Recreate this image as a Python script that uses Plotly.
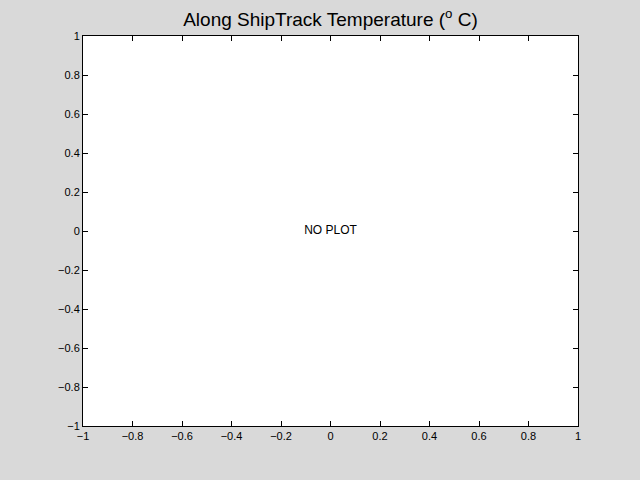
import plotly.graph_objects as go

x_ticks = [-1, -0.8, -0.6, -0.4, -0.2, 0, 0.2, 0.4, 0.6, 0.8, 1]
y_ticks = [-1, -0.8, -0.6, -0.4, -0.2, 0, 0.2, 0.4, 0.6, 0.8, 1]
tick_labels = ["\u22121", "\u22120.8", "\u22120.6", "\u22120.4", "\u22120.2", "0", "0.2", "0.4", "0.6", "0.8", "1"]
message = "NO PLOT"
message_x = [0]
message_y = [0]
title_text = "Along ShipTrack Temperature (<sup>o</sup> C)"

fig = go.Figure()
fig.add_trace(go.Scatter(x=message_x, y=message_y, mode="text", text=[message],
                         textfont=dict(family="Liberation Sans, Arial", size=12, color="black"),
                         hoverinfo="skip", showlegend=False))

axis_common = dict(
    showgrid=False, zeroline=False, ticks="inside", ticklen=5, tickcolor="black",
    linecolor="black", linewidth=1, showline=True, mirror="ticks",
    tickfont=dict(family="Liberation Sans, Arial", size=11, color="black"),
)
fig.update_xaxes(range=[-1, 1], tickvals=x_ticks, ticktext=tick_labels, **axis_common)
fig.update_yaxes(range=[-1, 1], tickvals=y_ticks, ticktext=tick_labels, **axis_common)

fig.update_layout(
    width=640, height=480,
    paper_bgcolor="#d9d9d9", plot_bgcolor="white",
    margin=dict(l=83, r=62, t=36, b=54),
    title=dict(text=title_text, xref="paper", x=0.5, xanchor="center", y=0.96, yanchor="middle",
               font=dict(family="Liberation Sans, Arial", size=19, color="black")),
    showlegend=False,
)
fig.write_html(
    "out.html",
    config={"displayModeBar": False, "staticPlot": True},
    post_script="document.body.style.margin='0';document.body.style.padding='0';document.body.style.background='#d9d9d9';",
)
